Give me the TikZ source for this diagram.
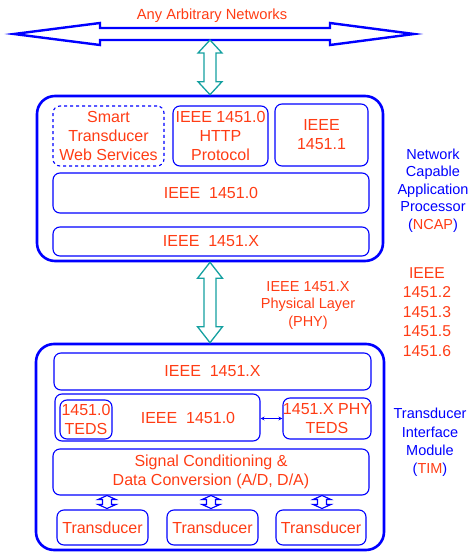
\documentclass[tikz,border=0pt]{standalone}
\usepackage{fontspec}
\setmainfont{Liberation Sans}
\usetikzlibrary{arrows.meta,calc}
\definecolor{orred}{RGB}{255,60,20}
\definecolor{tblue}{RGB}{0,0,255}
\definecolor{tealc}{RGB}{20,160,160}
\newcommand\fs[2]{\fontsize{#1}{#2}\selectfont}
% vertical hollow double arrow: style, top tip, bottom tip, half head, half shaft, head length
\newcommand\vdarr[6]{%
  \draw[#1] let \p1=(#2), \p2=(#3), \n1={\y1-\y2-2*#6pt} in
    (\p1) -- ++({#4pt},{-#6pt}) -- ++({#5pt-#4pt},0pt) -- ++(0pt,-\n1)
    -- ++({#4pt-#5pt},0pt) -- (\p2) -- ++({-#4pt},{#6pt}) -- ++({#4pt-#5pt},0pt)
    -- ++(0pt,\n1) -- ++({#5pt-#4pt},0pt) -- cycle;}
\begin{document}
\begin{tikzpicture}[x=1pt,y=-1pt,
  outerbox/.style={draw=tblue,line width=2.6pt,rounded corners=18pt,inner sep=0pt},
  box/.style={draw=tblue,line width=1.1pt,rounded corners=7pt,inner sep=0pt,text=orred,font=\fs{16}{19},align=center},
  lbl/.style={text=orred,font=\fs{16}{19},align=center,inner sep=0pt},
  side/.style={align=center,inner sep=0pt,font=\fs{14.5}{17.6}},
  bigarrow/.style={draw=tblue,line width=2.4pt,fill=white,line join=miter},
  tealarrow/.style={draw=tealc,line width=1.3pt,fill=white,line join=miter},
  smallarrow/.style={draw=tblue,line width=1.1pt,fill=white,line join=miter}]
\useasboundingbox (0,0) rectangle (476,552);

% network arrow
\coordinate (netL) at (14,34);
\coordinate (netR) at (414,34);
\coordinate (netmid) at (210,40);
\draw[bigarrow] (netL) -- ++(86,-11) -- ++(0,5) -- ++(230,0) -- ++(0,-5) -- (netR)
  -- ++(-84,11) -- ++(0,-5) -- ++(-230,0) -- ++(0,5) -- cycle;
\node[text=orred,font=\fs{14.7}{17},inner sep=0pt] (netlbl) at (212,16) {Any Arbitrary Networks};

% NCAP
\node[outerbox,minimum width=346pt,minimum height=165pt] (ncap) at (210,178.5) {};
\node[box,dashed,minimum width=111pt,minimum height=60pt] (stws) at (108.5,136) {Smart\\Transducer\\Web Services};
\node[box,minimum width=95pt,minimum height=60pt] (http) at (220.5,136) {IEEE 1451.0\\HTTP\\Protocol};
\node[box,minimum width=93pt,minimum height=62pt] (p1) at (321.5,135) {IEEE\\1451.1};
\node[box,minimum width=316pt,minimum height=40pt] (n0) at (211,193) {IEEE\ \ 1451.0};
\node[box,minimum width=316pt,minimum height=29pt] (nx) at (211,241.5) {IEEE\ \ 1451.X};

\node[side,text=tblue] (ncaplbl) at (433,190.5) {Network\\Capable\\Application\\Processor\\(\textcolor{orred}{NCAP})};

\vdarr{tealarrow}{netmid}{ncap.north}{12}{6}{13}

% TIM
\node[outerbox,minimum width=348pt,minimum height=206pt] (tim) at (210,447) {};
\vdarr{tealarrow}{ncap.south}{tim.north}{12.5}{6}{16}

\node[side,text=orred] (phylbl) at (308,305.5) {IEEE 1451.X\\Physical Layer\\(PHY)};
\node[align=center,inner sep=0pt,font=\fs{15.7}{19.5},text=orred] (stdlist) at (427,312) {IEEE\\1451.2\\1451.3\\1451.5\\1451.6};
\node[side,text=tblue,font=\fs{14.5}{18.3}] (timlbl) at (430,442.5) {Transducer\\Interface\\Module\\(\textcolor{orred}{TIM})};

\node[box,minimum width=317pt,minimum height=37pt] (tx) at (212.5,371.5) {IEEE\ \ 1451.X};
\node[box,minimum width=205pt,minimum height=47pt] (t0) at (157.5,417.5) {};
\node[lbl] (t0lbl) at (188,418) {IEEE\ \ 1451.0};
\node[box,minimum width=52pt,minimum height=39pt] (teds0) at (86,419.5) {1451.0\\TEDS};
\node[box,minimum width=88pt,minimum height=41pt] (phyteds) at (327,418.5) {1451.X PHY\\TEDS};
\draw[tblue,line width=1.1pt,{Stealth[length=4pt,width=4pt]}-{Stealth[length=4pt,width=4pt]}] (t0.east |- phyteds.west) -- (phyteds.west);

\node[box,minimum width=316pt,minimum height=46pt] (sc) at (211,472) {Signal Conditioning \&\\Data Conversion (A/D, D/A)};

\node[box,minimum width=91pt,minimum height=35pt] (tr1) at (102.5,527.5) {Transducer};
\node[box,minimum width=91pt,minimum height=35pt] (tr2) at (212.5,527.5) {Transducer};
\node[box,minimum width=90pt,minimum height=35pt] (tr3) at (321,527.5) {Transducer};

\coordinate (a1t) at (107,495.5); \coordinate (a1b) at (107,508.5);
\coordinate (a2t) at (211,495.5); \coordinate (a2b) at (211,508.5);
\coordinate (a3t) at (322,495.5); \coordinate (a3b) at (322,508.5);
\vdarr{smallarrow}{a1t}{a1b}{9}{4.5}{4}
\vdarr{smallarrow}{a2t}{a2b}{9}{4.5}{4}
\vdarr{smallarrow}{a3t}{a3b}{9}{4.5}{4}
\end{tikzpicture}
\end{document}
